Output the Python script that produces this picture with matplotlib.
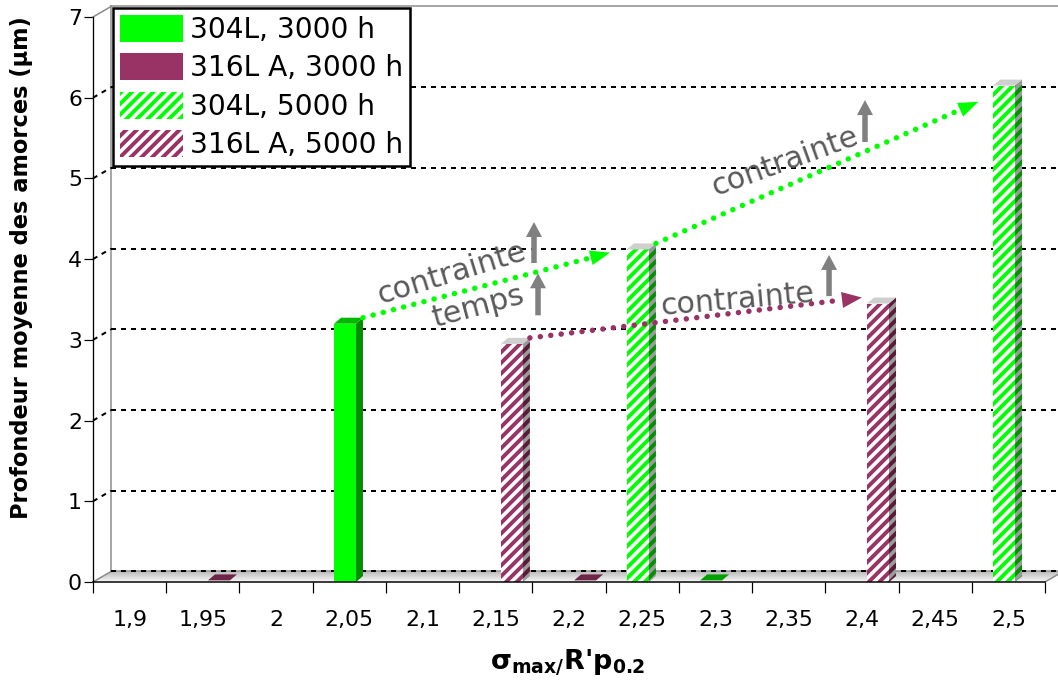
import numpy as np
import matplotlib
matplotlib.use("Agg")
import matplotlib.pyplot as plt
from matplotlib.patches import Patch, Polygon

# ---------------- data ----------------
categories = ['1,9', '1,95', '2', '2,05', '2,1', '2,15', '2,2',
              '2,25', '2,3', '2,35', '2,4', '2,45', '2,5']
s304_3000 = [None, None, None, 3.2, None, None, None, None, 0.0, None, None, None, None]
s316_3000 = [None, 0.0, None, None, None, None, 0.0, None, None, None, None, None, None]
s304_5000 = [None, None, None, None, None, None, None, 4.12, None, None, None, None, 6.15]
s316_5000 = [None, None, None, None, None, 2.95, None, None, None, None, 3.45, None, None]
labels = ['304L, 3000 h', '316L A, 3000 h', '304L, 5000 h', '316L A, 5000 h']
yticks = [0, 1, 2, 3, 4, 5, 6, 7]

# ---------------- style ----------------
DPI = 128
def pt(px):
    return px * 72.0 / DPI

GREEN = '#00FF00'
PURPLE = '#993366'
HATCH = '////'
plt.rcParams['font.family'] = ['DejaVu Sans']
plt.rcParams['hatch.linewidth'] = pt(3.9)

fig = plt.figure(figsize=(1058 / DPI, 684 / DPI), dpi=DPI)
ax = fig.add_axes([93 / 1058, (684 - 582) / 684, (1045 - 93) / 1058, (582 - 17) / 684])
ax.set_xlim(-0.5, 12.5)
ax.set_ylim(0, 7)
ax.patch.set_visible(False)
for s in ['top', 'right']:
    ax.spines[s].set_visible(False)
ax.spines['left'].set_linewidth(pt(1.3))
ax.spines['bottom'].set_linewidth(pt(1.5))
ax.spines['left'].set_zorder(6)
ax.spines['bottom'].set_zorder(6)

n = len(categories)
idx = np.arange(n)
ax.set_yticks(yticks)
ax.set_yticklabels([str(v) for v in yticks])
ax.tick_params(axis='y', length=pt(9), width=pt(1.2), pad=pt(2), labelsize=pt(22))
ax.set_xticks(np.arange(-0.5, n + 0.5, 1.0))
ax.set_xticklabels([])
ax.tick_params(axis='x', which='major', length=pt(11), width=pt(1.2))
ax.set_xticks(idx, minor=True)
ax.set_xticklabels(categories, minor=True)
ax.tick_params(axis='x', which='minor', length=0, pad=pt(28), labelsize=pt(22))

# 3D geometry
dxw, dyw = 18 / 73.23, 10.5 / 80.71      # wall depth
ddx, ddy = 7 / 73.23, 6 / 80.71          # bar depth
xright = 12.68
x0, x1 = -0.5, n - 0.5

# floor gradient
nstrip = 14
for k in range(nstrip):
    f0, f1 = k / nstrip, (k + 1) / nstrip
    g = 0.97 - 0.30 * (f0 + f1) / 2
    poly = Polygon([(x0 + f0 * dxw, f0 * dyw), (x1 + f0 * dxw, f0 * dyw),
                    (x1 + f1 * dxw, f1 * dyw), (x0 + f1 * dxw, f1 * dyw)],
                   closed=True, facecolor=(g, g, g), edgecolor='none',
                   clip_on=False, zorder=1)
    ax.add_patch(poly)

grey = '#8a8a8a'
# wall edges
ax.plot([x0 + dxw, x0 + dxw], [dyw, 7 + dyw], color=grey, lw=pt(1.5), clip_on=False, zorder=2)
ax.plot([x0, x0 + dxw], [7, 7 + dyw], color=grey, lw=pt(1.5), clip_on=False, zorder=2)
ax.plot([x0 + dxw, xright], [7 + dyw, 7 + dyw], color=grey, lw=pt(1.5), clip_on=False, zorder=2)
ax.plot([x0, x0 + dxw], [0, dyw], color=grey, lw=pt(1.5), clip_on=False, zorder=2)
ax.plot([x1, x1 + dxw], [0, dyw], color=grey, lw=pt(1.5), clip_on=False, zorder=2)
ax.plot([x0 + dxw, xright], [dyw, dyw], color=grey, lw=pt(1.5), clip_on=False, zorder=2)

# grid lines on back wall
for k in yticks[:-1]:
    ax.plot([x0 + dxw, xright], [k + dyw, k + dyw], color='black', lw=pt(2),
            ls=(0, (2.5, 2.5)), clip_on=False, zorder=2)
    if k > 0:
        ax.plot([x0, x0 + dxw], [k, k + dyw], color='black', lw=pt(2),
                ls=(0, (2.5, 2.5)), clip_on=False, zorder=2)

# ---------------- bars ----------------
W = 0.30
off304, off316 = -0.059, 0.22

def draw_series(vals, offset, face, hatch_col, side, side_hatch, top, flat):
    xs = [i + offset for i, v in enumerate(vals) if v is not None]
    hs = [v for v in vals if v is not None]
    if hatch_col is None:
        bars = ax.bar(xs, hs, width=W, color=face, edgecolor='none', lw=0, zorder=4)
    else:
        bars = ax.bar(xs, hs, width=W, color='white', edgecolor=hatch_col, hatch=HATCH,
                      lw=0, zorder=4)
    for b in bars:
        xl, w, h = b.get_x(), b.get_width(), b.get_height()
        xr_ = xl + w
        if h <= 0:
            ax.add_patch(Polygon([(xl, 0.02), (xr_, 0.02), (xr_ + ddx, 0.02 + ddy), (xl + ddx, 0.02 + ddy)],
                                 closed=True, facecolor=flat, edgecolor='none', zorder=4))
            continue
        sp = Polygon([(xr_, 0), (xr_ + ddx, ddy), (xr_ + ddx, h + ddy), (xr_, h)], closed=True,
                     facecolor=side, edgecolor=(side_hatch if side_hatch else 'none'),
                     hatch=(HATCH if side_hatch else None), lw=0, zorder=4)
        ax.add_patch(sp)
        tp = Polygon([(xl, h), (xr_, h), (xr_ + ddx, h + ddy), (xl + ddx, h + ddy)], closed=True,
                     facecolor=top, edgecolor='none', lw=0, zorder=4)
        ax.add_patch(tp)
    return bars

b1 = draw_series(s304_3000, off304, GREEN, None, '#008f00', None, '#00b800', '#00a000')
b2 = draw_series(s316_3000, off316, PURPLE, None, '#5e1f3e', None, '#7a2a52', '#6e2548')
b3 = draw_series(s304_5000, off304, None, GREEN, '#9a9a9a', '#009000', '#cfcfcf', '#00a000')
b4 = draw_series(s316_5000, off316, None, PURPLE, '#9a9a9a', '#5a1a3a', '#cfcfcf', '#6e2548')

# ---------------- annotations ----------------
def dotted_arrow(start, tip, color, hl, hw):
    sx, sy = start
    tx, ty = tip
    f = 0.93
    bx, by = sx + (tx - sx) * f, sy + (ty - sy) * f
    ax.plot([sx, bx], [sy, by], color=color, lw=pt(5.5), ls=(0, (0.01, 1.9)),
            dash_capstyle='round', zorder=5, clip_on=False)
    ax.annotate('', xy=(tx, ty), xytext=(bx, by),
                arrowprops=dict(arrowstyle='-|>,head_length=%g,head_width=%g' % (hl, hw),
                                color=color, lw=0, shrinkA=0, shrinkB=0,
                                mutation_scale=pt(10)), zorder=5)

g205 = b1[0]
g225, g250 = b3[0], b3[1]
p215, p240 = b4[0], b4[1]

def top_right_back(b):
    return (b.get_x() + b.get_width() + ddx, b.get_height() + ddy)

dotted_arrow(top_right_back(g205), (g225.get_x() - 0.23, g225.get_height() - 0.04), GREEN, 2.0, 0.75)
dotted_arrow(top_right_back(g225), (g250.get_x() - 0.2, g250.get_height() - 0.2), GREEN, 2.0, 0.75)
dotted_arrow(top_right_back(p215), (p240.get_x() - 0.07, p240.get_height() + ddy), PURPLE, 2.0, 0.8)

def up_arrow(x, y0, y1):
    ax.annotate('', xy=(x, y1), xytext=(x, y0),
                arrowprops=dict(arrowstyle='simple,head_length=1.5,head_width=1.6,tail_width=0.55',
                                color='#808080', lw=0, shrinkA=0, shrinkB=0,
                                mutation_scale=pt(10)), zorder=5)

up_arrow(5.522, 3.952, 4.460)
up_arrow(5.577, 3.304, 3.825)
up_arrow(9.551, 3.542, 4.052)
up_arrow(10.042, 5.452, 5.971)

tcol = '#595959'
tfs = pt(30)
ax.text(4.402, 3.829, 'contrainte', rotation=17, rotation_mode='anchor', ha='center',
        va='center', fontsize=tfs, color=tcol, zorder=5)
ax.text(4.757, 3.407, 'temps', rotation=15, rotation_mode='anchor', ha='center',
        va='center', fontsize=tfs, color=tcol, zorder=5)
ax.text(8.294, 3.494, 'contrainte', rotation=5, rotation_mode='anchor', ha='center',
        va='center', fontsize=tfs, color=tcol, zorder=5)
ax.text(8.950, 5.204, 'contrainte', rotation=20, rotation_mode='anchor', ha='center',
        va='center', fontsize=tfs, color=tcol, zorder=5)

# ---------------- legend ----------------
handles = [Patch(facecolor=GREEN, edgecolor='none', lw=0),
           Patch(facecolor=PURPLE, edgecolor='none', lw=0),
           Patch(facecolor='white', edgecolor=GREEN, hatch=HATCH, lw=0),
           Patch(facecolor='white', edgecolor=PURPLE, hatch=HATCH, lw=0)]
leg = ax.legend(handles, labels, loc='upper left', bbox_to_anchor=(113 / 1058, 1 - 8 / 684),
                bbox_transform=fig.transFigure, fontsize=pt(28), handlelength=2.25,
                handleheight=1.1, handletextpad=0.25, labelspacing=0.34, borderpad=0.25,
                borderaxespad=0, frameon=True, fancybox=False, framealpha=1,
                edgecolor='black')
leg.get_frame().set_linewidth(pt(2.5))
leg.set_zorder(10)

# ---------------- axis titles ----------------
fig.text(22 / 1058, 1 - 268 / 684, 'Profondeur moyenne des amorces (µm)', rotation=90,
         ha='center', va='center', fontsize=pt(22.5), fontweight='bold')
fig.text(568 / 1058, 1 - 662 / 684, "σ$_{\\mathbf{max/}}$R'p$_{\\mathbf{0.2}}$",
         ha='center', va='center', fontsize=pt(27), fontweight='bold')

fig.savefig('out.png', dpi=DPI)
